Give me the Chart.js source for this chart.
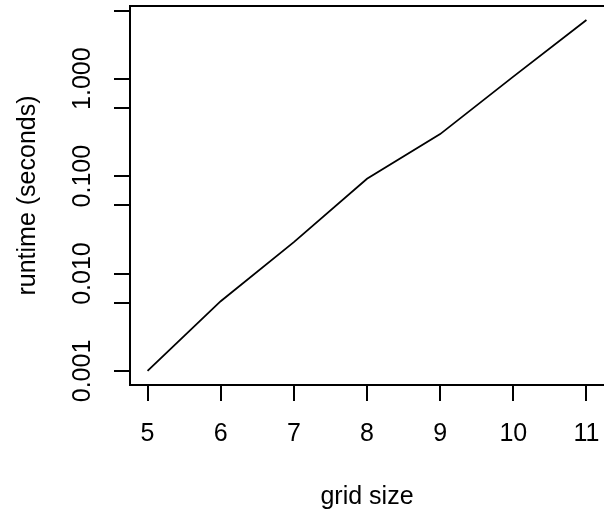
<!DOCTYPE html>
<html>
<head>
<meta charset="utf-8">
<script src="https://cdn.jsdelivr.net/npm/chart.js@4.4.0/dist/chart.umd.min.js"></script>
<style>
  html, body { margin: 0; padding: 0; background: #fff; }
  canvas { display: block; }
</style>
</head>
<body>
<canvas id="runtimeChart" width="604" height="514"></canvas>
<script>
// values (log y axis)
const gridSizes = [5, 6, 7, 8, 9, 10, 11];
const runtimes = [0.001, 0.0052, 0.021, 0.094, 0.27, 1.05, 4.0];
const xTicks = [5, 6, 7, 8, 9, 10, 11];
const yTicks = [0.001, 0.005, 0.01, 0.05, 0.1, 0.5, 1, 5];

const FONT = "'Liberation Sans', Arial, Helvetica, sans-serif";

// R style 4% extension of the axis ranges
const xPad = 0.04 * (Math.max(...gridSizes) - Math.min(...gridSizes));
const lo = Math.log10(Math.min(...runtimes));
const hi = Math.log10(Math.max(...runtimes));
const yPad = 0.04 * (hi - lo);

const isDecade = v => Math.abs(Math.log10(v) - Math.round(Math.log10(v))) < 1e-9;

// the box top edge (R draws a full box, right side falls off the canvas)
const boxTop = {
  id: 'boxTop',
  afterDraw(chart) {
    const { ctx, chartArea } = chart;
    ctx.save();
    ctx.strokeStyle = '#000';
    ctx.lineWidth = 2;
    ctx.beginPath();
    ctx.moveTo(chartArea.left - 1, chartArea.top);
    ctx.lineTo(chartArea.right, chartArea.top);
    ctx.stroke();
    ctx.restore();
  }
};

const ctx = document.getElementById('runtimeChart').getContext('2d');

new Chart(ctx, {
  type: 'line',
  data: {
    datasets: [{
      data: gridSizes.map((g, i) => ({ x: g, y: runtimes[i] })),
      borderColor: '#000',
      borderWidth: 1.8,
      pointRadius: 0,
      tension: 0,
      fill: false
    }]
  },
  options: {
    responsive: false,
    devicePixelRatio: 1,
    animation: false,
    layout: { padding: { left: 0, right: 0, top: 6, bottom: 0 } },
    plugins: { legend: { display: false }, tooltip: { enabled: false } },
    scales: {
      x: {
        type: 'linear',
        min: Math.min(...gridSizes) - xPad,
        max: Math.max(...gridSizes) + xPad,
        afterBuildTicks: s => { s.ticks = xTicks.map(v => ({ value: v })); },
        afterFit: s => { s.height = 129; s.paddingLeft = 0; s.paddingRight = 0; },
        ticks: {
          autoSkip: false,
          maxRotation: 0,
          padding: 18,
          color: '#000',
          font: { family: FONT, size: 25 }
        },
        grid: { drawOnChartArea: false, drawTicks: true, tickLength: 16, color: '#000', lineWidth: 2 },
        border: { display: true, color: '#000', width: 2 },
        title: {
          display: true,
          text: 'grid size',
          color: '#000',
          font: { family: FONT, size: 25 },
          padding: { top: 0, bottom: 2 }
        }
      },
      y: {
        type: 'logarithmic',
        min: Math.pow(10, lo - yPad),
        max: Math.pow(10, hi + yPad),
        afterBuildTicks: s => { s.ticks = yTicks.map(v => ({ value: v })); },
        afterFit: s => { s.width = 130; s.paddingTop = 0; s.paddingBottom = 0; },
        ticks: {
          autoSkip: false,
          minRotation: 90,
          maxRotation: 90,
          crossAlign: 'center',
          padding: 0,
          color: '#000',
          font: { family: FONT, size: 25 },
          callback: v => isDecade(v) ? v.toFixed(3) : ''
        },
        grid: { drawOnChartArea: false, drawTicks: true, tickLength: 16, color: '#000', lineWidth: 2 },
        border: { display: true, color: '#000', width: 2 },
        title: {
          display: true,
          text: 'runtime (seconds)',
          color: '#000',
          font: { family: FONT, size: 25 },
          padding: { top: 13, bottom: 0 }
        }
      }
    }
  },
  plugins: [boxTop]
});
</script>
</body>
</html>
